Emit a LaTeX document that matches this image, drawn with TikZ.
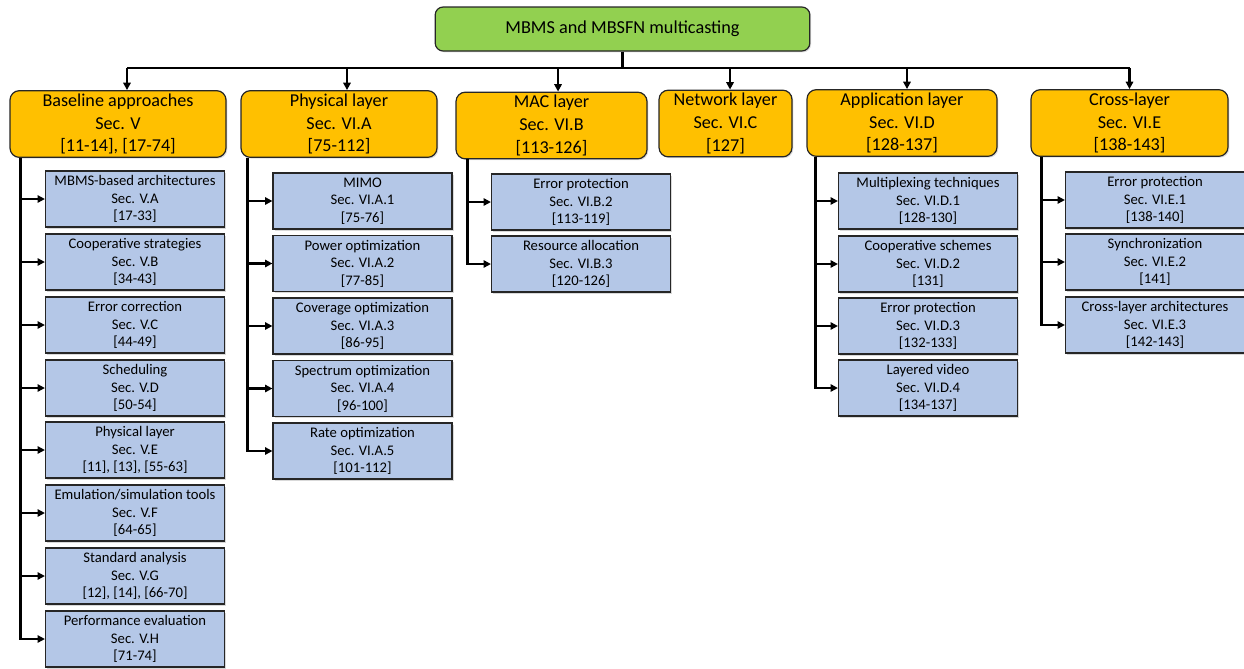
\documentclass[tikz,border=0pt]{standalone}
\usepackage{fontspec}
\setmainfont{Carlito}
\usetikzlibrary{arrows.meta,shadows}
\definecolor{topgreen}{HTML}{92D050}
\definecolor{layerorange}{HTML}{FFC000}
\definecolor{itemblue}{HTML}{B4C7E7}
\definecolor{boxedge}{HTML}{262626}
\tikzstyle{every node}=[inner sep=0pt, align=center, text=black]
\tikzset{topbox/.style={draw=boxedge, line width=0.9pt, fill=topgreen, rounded corners=6pt,
      minimum width=281pt, minimum height=33pt, font=\fontsize{13.7}{15}\selectfont,
      drop shadow={shadow xshift=1pt, shadow yshift=-1pt, opacity=0.25}}}
\tikzset{layerbox/.style={draw=boxedge, line width=0.9pt, fill=layerorange, rounded corners=7pt,
      minimum height=50pt, font=\fontsize{13.6}{17.2}\selectfont,
      drop shadow={shadow xshift=1pt, shadow yshift=-1pt, opacity=0.25}}}
\tikzset{itembox/.style={draw=boxedge, line width=0.9pt, fill=itemblue,
      minimum width=134.25pt, minimum height=42pt, font=\fontsize{11}{13.1}\selectfont,
      drop shadow={shadow xshift=1.2pt, shadow yshift=-1.2pt, opacity=0.3}}}
\tikzset{link/.style={line width=1.8pt, draw=black}}
\tikzset{arr/.style={link, -{Triangle[length=5.5pt,width=5.5pt]}}}

\begin{document}
\begin{tikzpicture}[x=0.75pt,y=-0.75pt]
    \useasboundingbox (0,0) rectangle (1244,668);

    \node[topbox] (top) at (622.5,29) {MBMS and MBSFN multicasting};

    \node[layerbox, minimum width=162pt] (base) at (118,124) {Baseline approaches\\Sec. V\\{[11-14], [17-74]}};
    \node[layerbox, minimum width=147pt] (phy) at (339,124) {Physical layer\\Sec. VI.A\\{[75-112]}};
    \node[layerbox, minimum width=143.25pt] (mac) at (551.5,125.5) {MAC layer\\Sec. VI.B\\{[113-126]}};
    \node[layerbox, minimum width=99.75pt] (net) at (725.5,123.5) {Network layer\\Sec. VI.C\\{[127]}};
    \node[layerbox, minimum width=142.5pt] (app) at (902,123) {Application layer\\Sec. VI.D\\{[128-137]}};
    \node[layerbox, minimum width=147.75pt] (cross) at (1129.5,123) {Cross-layer\\Sec. VI.E\\{[138-143]}};

    \node[itembox] (base1) at (135,199) {MBMS-based architectures\\Sec. V.A\\{[17-33]}};
    \node[itembox] (base2) at (135,262) {Cooperative strategies\\Sec. V.B\\{[34-43]}};
    \node[itembox] (base3) at (135,325) {Error correction\\Sec. V.C\\{[44-49]}};
    \node[itembox] (base4) at (135,388) {Scheduling\\Sec. V.D\\{[50-54]}};
    \node[itembox] (base5) at (135,450) {Physical layer\\Sec. V.E\\{[11], [13], [55-63]}};
    \node[itembox] (base6) at (135,513) {Emulation/simulation tools\\Sec. V.F\\{[64-65]}};
    \node[itembox] (base7) at (135,576) {Standard analysis\\Sec. V.G\\{[12], [14], [66-70]}};
    \node[itembox] (base8) at (135,639) {Performance evaluation\\Sec. V.H\\{[71-74]}};

    \node[itembox] (phy1) at (362.5,201) {MIMO\\Sec. VI.A.1\\{[75-76]}};
    \node[itembox] (phy2) at (362.5,263.5) {Power optimization\\Sec. VI.A.2\\{[77-85]}};
    \node[itembox] (phy3) at (362.5,326) {Coverage optimization\\Sec. VI.A.3\\{[86-95]}};
    \node[itembox] (phy4) at (362.5,388.5) {Spectrum optimization\\Sec. VI.A.4\\{[96-100]}};
    \node[itembox] (phy5) at (362.5,451) {Rate optimization\\Sec. VI.A.5\\{[101-112]}};

    \node[itembox] (mac1) at (581,202) {Error protection\\Sec. VI.B.2\\{[113-119]}};
    \node[itembox] (mac2) at (581,264) {Resource allocation\\Sec. VI.B.3\\{[120-126]}};

    \node[itembox] (app1) at (928,201) {Multiplexing techniques\\Sec. VI.D.1\\{[128-130]}};
    \node[itembox] (app2) at (928,264) {Cooperative schemes\\Sec. VI.D.2\\{[131]}};
    \node[itembox] (app3) at (928,326) {Error protection\\Sec. VI.D.3\\{[132-133]}};
    \node[itembox] (app4) at (928,388) {Layered video\\Sec. VI.D.4\\{[134-137]}};

    \node[itembox] (cross1) at (1155,200) {Error protection\\Sec. VI.E.1\\{[138-140]}};
    \node[itembox] (cross2) at (1155,262) {Synchronization\\Sec. VI.E.2\\{[141]}};
    \node[itembox] (cross3) at (1155,325) {Cross-layer architectures\\Sec. VI.E.3\\{[142-143]}};

    % bus from the top box
    \coordinate (bus) at (622.5,68);
    \coordinate (base-in) at ([xshift=6.75pt]base.north);
    \coordinate (phy-in) at ([xshift=6pt]phy.north);
    \coordinate (mac-in) at ([xshift=4.9pt]mac.north);
    \coordinate (net-in) at ([xshift=3.4pt]net.north);
    \coordinate (app-in) at ([xshift=3.75pt]app.north);
    \coordinate (cross-in) at (cross.north);
    \draw[link] (top.south) -- (bus);
    \draw[link] (bus -| base-in) -- (bus -| cross-in);
    \draw[arr] (bus -| base-in) -- (base-in);
    \draw[arr] (bus -| phy-in) -- (phy-in);
    \draw[arr] (bus -| mac-in) -- (mac-in);
    \draw[arr] (bus -| net-in) -- (net-in);
    \draw[arr] (bus -| app-in) -- (app-in);
    \draw[arr] (bus -| cross-in) -- (cross-in);

    % trunks down to the sections
    \coordinate (base-t) at ([xshift=8.25pt]base.south west);
    \coordinate (phy-t) at ([xshift=5.25pt]phy.south west);
    \coordinate (mac-t) at ([xshift=9pt]mac.south west);
    \coordinate (app-t) at ([xshift=6.75pt]app.south west);
    \coordinate (cross-t) at ([xshift=8.25pt]cross.south west);

    \draw[arr] (base-t) |- (base8.west);
    \draw[arr] (base-t |- base1.west) -- (base1.west);
    \draw[arr] (base-t |- base2.west) -- (base2.west);
    \draw[arr] (base-t |- base3.west) -- (base3.west);
    \draw[arr] (base-t |- base4.west) -- (base4.west);
    \draw[arr] (base-t |- base5.west) -- (base5.west);
    \draw[arr] (base-t |- base6.west) -- (base6.west);
    \draw[arr] (base-t |- base7.west) -- (base7.west);

    \draw[arr] (phy-t) |- (phy5.west);
    \draw[arr] (phy-t |- phy1.west) -- (phy1.west);
    \draw[arr] (phy-t |- phy2.west) -- (phy2.west);
    \draw[arr] (phy-t |- phy3.west) -- (phy3.west);
    \draw[arr] (phy-t |- phy4.west) -- (phy4.west);

    \draw[arr] (mac-t) |- (mac2.west);
    \draw[arr] (mac-t |- mac1.west) -- (mac1.west);

    \draw[arr] (app-t) |- (app4.west);
    \draw[arr] (app-t |- app1.west) -- (app1.west);
    \draw[arr] (app-t |- app2.west) -- (app2.west);
    \draw[arr] (app-t |- app3.west) -- (app3.west);

    \draw[arr] (cross-t) |- (cross3.west);
    \draw[arr] (cross-t |- cross1.west) -- (cross1.west);
    \draw[arr] (cross-t |- cross2.west) -- (cross2.west);
\end{tikzpicture}
\end{document}
